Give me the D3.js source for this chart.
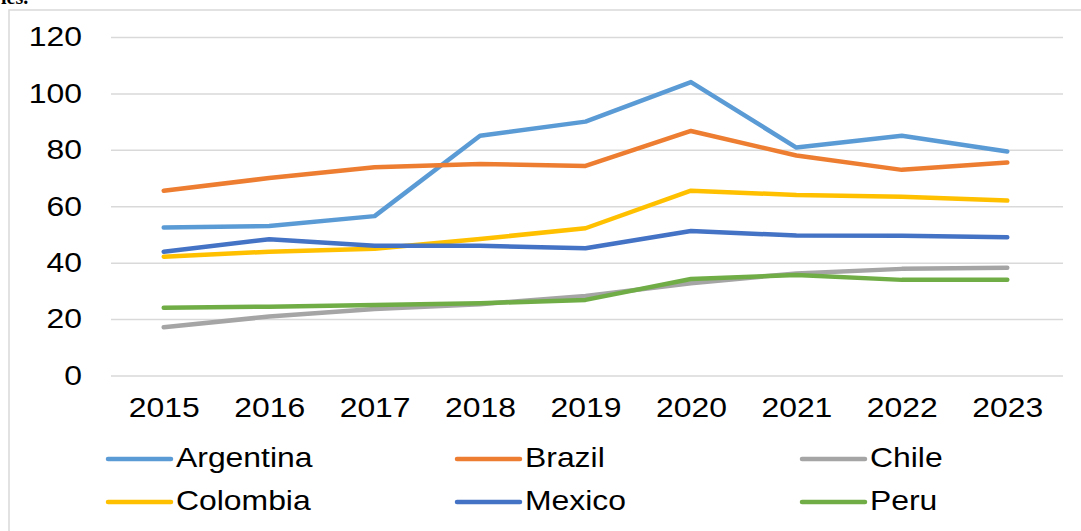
<!DOCTYPE html>
<html lang="en">
<head>
    <meta charset="UTF-8">
    <title>Latin America line chart 2015-2023</title>
    <script src="https://d3js.org/d3.v7.min.js"></script>
    <style>
        html, body {
            margin: 0;
            padding: 0;
            background: #fff;
            overflow: hidden;
        }
        body {
            font-family: "Liberation Sans", Arial, sans-serif;
        }
        .axis text {
            font-size: 27.5px;
            fill: #000;
        }
        .grid line {
            stroke: #d9d9d9;
            stroke-width: 1.5;
        }
        .legend text {
            font-size: 27.5px;
            fill: #000;
        }
    </style>
</head>
<body>

<div id="chart"></div>

<script>
    // data
    const years = [2015, 2016, 2017, 2018, 2019, 2020, 2021, 2022, 2023];
    const argentina = [52.5, 53, 56.5, 85, 90, 104, 80.8, 85, 79.4];
    const brazil = [65.5, 70, 73.8, 75, 74.3, 86.7, 78, 72.9, 75.5];
    const chile = [17.1, 20.9, 23.6, 25.3, 28.2, 32.7, 36.2, 37.8, 38.2];
    const colombia = [42.1, 43.9, 44.9, 48.4, 52.2, 65.5, 64, 63.4, 62];
    const mexico = [43.9, 48.3, 46, 46, 45.1, 51.2, 49.6, 49.5, 49];
    const peru = [24, 24.4, 25, 25.6, 26.8, 34.2, 35.6, 33.9, 33.9];
    const yTicks = [0, 20, 40, 60, 80, 100, 120];

    const seriesNames = ["Argentina", "Brazil", "Chile", "Colombia", "Mexico", "Peru"];
    const seriesValues = [argentina, brazil, chile, colombia, mexico, peru];
    const colors = ["#5b9bd5", "#ed7d31", "#a5a5a5", "#ffc000", "#4472c4", "#70ad47"];

    const W = 1081, H = 531;
    const plot = { left: 111, right: 1063, top: 37, bottom: 375.5 };
    const stretch = 1.16; // text in the picture is slightly wide

    const svg = d3.select("#chart")
        .append("svg")
        .attr("width", W)
        .attr("height", H);

    // leftover text of the line above, cut by the image edge
    svg.append("text")
        .attr("x", 1)
        .attr("y", 4)
        .style("font-family", "'Liberation Serif', serif")
        .style("font-size", "20px")
        .style("font-weight", "bold")
        .text("ies.");

    // chart border (only top and left visible)
    svg.append("rect")
        .attr("x", 9)
        .attr("y", 10)
        .attr("width", W + 20)
        .attr("height", H + 20)
        .attr("fill", "none")
        .attr("stroke", "#d9d9d9")
        .attr("stroke-width", 1.5);

    const x = d3.scalePoint()
        .domain(years)
        .range([plot.left, 1060])
        .padding(0.5);

    const y = d3.scaleLinear()
        .domain([0, 120])
        .range([plot.bottom, plot.top]);

    // Y axis with gridlines
    const yAxis = svg.append("g")
        .attr("class", "axis grid")
        .attr("transform", `translate(${plot.left},0)`)
        .call(d3.axisLeft(y)
            .tickValues(yTicks)
            .tickSize(-(plot.right - plot.left))
            .tickPadding(29));
    yAxis.select(".domain").remove();
    yAxis.selectAll("text").each(function() {
        const t = d3.select(this);
        const tx = +t.attr("x");
        t.attr("x", 0).attr("transform", `translate(${tx},0) scale(${stretch},1)`);
    });

    // X axis
    const xAxis = svg.append("g")
        .attr("class", "axis")
        .attr("transform", `translate(0,${plot.bottom})`)
        .call(d3.axisBottom(x).tickSize(0));
    xAxis.select(".domain").remove();
    xAxis.selectAll("text")
        .attr("y", 0)
        .attr("dy", 0)
        .attr("transform", `translate(0,41.5) scale(${stretch},1)`);

    // Lines
    const line = d3.line()
        .x((d, i) => x(years[i]))
        .y(d => y(d));

    svg.append("g")
        .selectAll("path")
        .data(seriesValues)
        .enter().append("path")
        .attr("d", d => line(d))
        .attr("fill", "none")
        .attr("stroke", (d, i) => colors[i])
        .attr("stroke-width", 4.5)
        .attr("stroke-linejoin", "round")
        .attr("stroke-linecap", "round");

    // Legend: 3 columns, 2 rows
    const legendCols = [108, 457, 802];
    const legendRows = [459, 502];
    const legend = svg.append("g").attr("class", "legend");
    const items = legend.selectAll("g")
        .data(seriesNames)
        .enter().append("g")
        .attr("transform", (d, i) => `translate(${legendCols[i % 3]},${legendRows[Math.floor(i / 3)]})`);
    items.append("line")
        .attr("x1", 0)
        .attr("x2", 63)
        .attr("stroke", (d, i) => colors[i])
        .attr("stroke-width", 4.5)
        .attr("stroke-linecap", "round");
    items.append("text")
        .attr("transform", `translate(68,8) scale(${stretch},1)`)
        .text(d => d);
</script>

</body>
</html>
